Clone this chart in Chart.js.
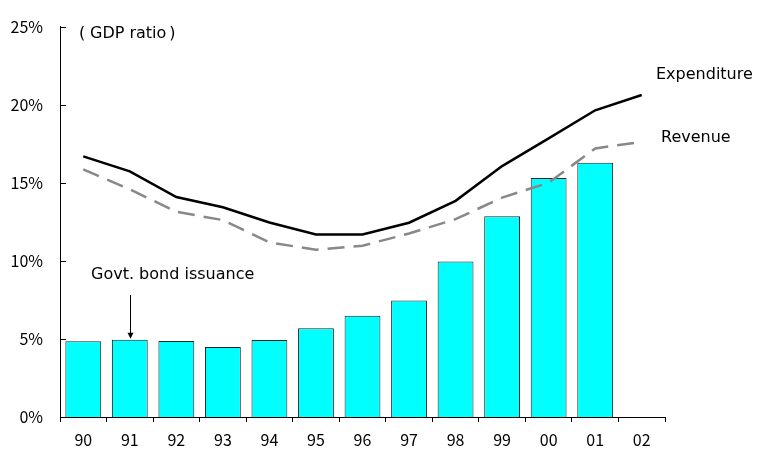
<!DOCTYPE html>
<html>
<head>
<meta charset="utf-8">
<script src="https://cdn.jsdelivr.net/npm/chart.js@4.4.1/dist/chart.umd.min.js"></script>
<style>
  html, body { margin: 0; padding: 0; background: #fff; }
  #wrap { width: 760px; height: 450px; position: relative; }
</style>
</head>
<body>
<div id="wrap"><canvas id="c" width="760" height="450"></canvas></div>
<script>
// Fiscal years and GDP-ratio series (%)
const years = ['90','91','92','93','94','95','96','97','98','99','00','01','02'];
const bondIssuance = [4.85, 4.95, 4.87, 4.48, 4.93, 5.68, 6.49, 7.46, 9.95, 12.86, 15.3, 16.28, null];
const expenditure = [16.69, 15.73, 14.09, 13.43, 12.46, 11.69, 11.69, 12.44, 13.84, 16.07, 17.84, 19.64, 20.62];
const revenue = [15.86, 14.58, 13.14, 12.61, 11.18, 10.71, 10.97, 11.75, 12.67, 14.05, 15.0, 17.2, 17.62];
const yTicks = [0, 5, 10, 15, 20, 25];

const TICK_FONT = '"Noto Sans CJK JP", "Noto Sans", sans-serif';
const TEXT_FONT = '"DejaVu Sans", "Noto Sans CJK JP", sans-serif';

// Inward ticks on the value axis plus the text annotations and arrow
const decorations = {
  id: 'decorations',
  afterDraw(chart) {
    const ctx = chart.ctx;
    const y = chart.scales.y;
    const x = chart.scales.x;
    ctx.save();
    ctx.strokeStyle = '#000';
    ctx.lineWidth = 1;
    yTicks.forEach(v => {
      const py = Math.round(y.getPixelForValue(v)) + 0.5;
      ctx.beginPath();
      ctx.moveTo(x.left, py);
      ctx.lineTo(x.left + 6, py);
      ctx.stroke();
    });

    ctx.fillStyle = '#000';
    ctx.textBaseline = 'middle';
    ctx.textAlign = 'left';
    ctx.font = '16px ' + TEXT_FONT;

    // Unit note, brackets set apart like full-width ones
    ctx.fillText('(', 79, 34);
    ctx.fillText('GDP ratio', 90, 34);
    const inner = ctx.measureText('GDP ratio').width;
    ctx.fillText(')', 90 + inner + 3, 34);

    ctx.fillText('Expenditure', 656, 75);
    ctx.fillText('Revenue', 661, 138);
    ctx.fillText('Govt. bond issuance', 91, 275);

    // Arrow pointing at the 1991 bar
    const ax = Math.round(x.getPixelForValue(1)) + 0.5;
    const top = y.getPixelForValue(bondIssuance[1]);
    ctx.beginPath();
    ctx.moveTo(ax, 295);
    ctx.lineTo(ax, top - 5);
    ctx.stroke();
    ctx.beginPath();
    ctx.moveTo(ax - 3, top - 7);
    ctx.lineTo(ax + 3, top - 7);
    ctx.lineTo(ax, top - 1);
    ctx.closePath();
    ctx.fill();
    ctx.restore();
  }
};

new Chart(document.getElementById('c'), {
  type: 'bar',
  data: {
    labels: years,
    datasets: [
      {
        type: 'line',
        label: 'Expenditure',
        data: expenditure,
        borderColor: '#000',
        borderWidth: 2.5,
        pointRadius: 0,
        tension: 0,
        order: 1
      },
      {
        type: 'line',
        label: 'Revenue',
        data: revenue,
        borderColor: '#888',
        borderWidth: 2.5,
        borderDash: [17, 9],
        pointRadius: 0,
        tension: 0,
        order: 2
      },
      {
        type: 'bar',
        label: 'Govt. bond issuance',
        data: bondIssuance,
        backgroundColor: '#00ffff',
        borderColor: '#222',
        borderWidth: 1,
        categoryPercentage: 1,
        barPercentage: 0.77,
        order: 3
      }
    ]
  },
  options: {
    responsive: false,
    animation: false,
    layout: { padding: { top: 25, right: 95, left: 0, bottom: 0 } },
    plugins: { legend: { display: false }, tooltip: { enabled: false } },
    scales: {
      x: {
        offset: true,
        grid: { offset: true, drawOnChartArea: false, drawTicks: true, tickLength: 5, color: '#000' },
        border: { color: '#000', width: 1 },
        ticks: { color: '#000', font: { family: TICK_FONT, size: 16 }, padding: 8, maxRotation: 0 },
        afterFit(s) { s.height = 33; }
      },
      y: {
        min: 0,
        max: 25,
        grid: { display: false, drawTicks: false },
        border: { color: '#000', width: 1 },
        ticks: {
          stepSize: 5,
          color: '#000',
          font: { family: TICK_FONT, size: 16 },
          padding: 17,
          callback: v => v + '%'
        },
        afterFit(s) { s.width = 60; }
      }
    }
  },
  plugins: [decorations]
});
</script>
</body>
</html>
